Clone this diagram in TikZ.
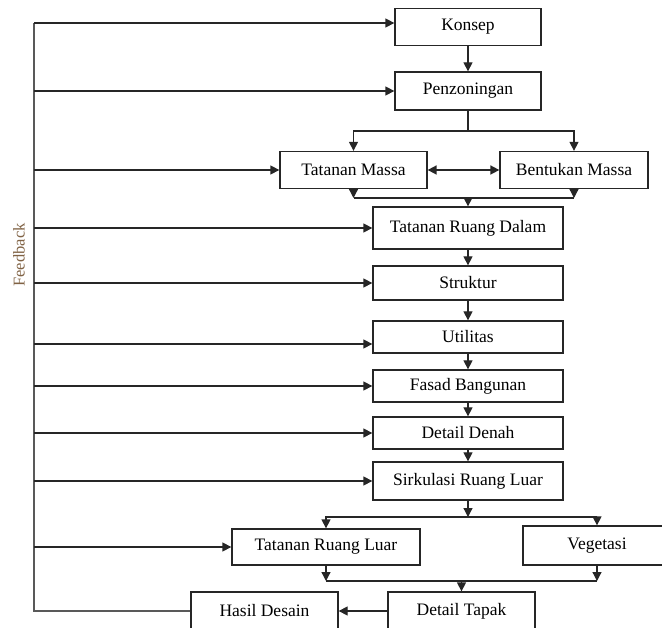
\documentclass[tikz,border=0pt]{standalone}
\usepackage{fontspec}
\setmainfont{Liberation Serif}
\usetikzlibrary{arrows.meta}

\tikzset{
  box/.style={shape=rectangle,draw=black!85,line width=1.3pt,inner sep=0pt,
    font=\fontsize{17.5}{19}\selectfont},
  arr/.style={-{Triangle[length=9pt,width=9pt]},line width=1.3pt,draw=black!85},
  ln/.style={line width=1.3pt,draw=black!85}
}

\begin{document}
\begin{tikzpicture}[x=1pt,y=-1pt]
  \useasboundingbox (0,0) rectangle (662,628);
  \clip (0,0) rectangle (662,628);

  % main column
  \node[box,minimum width=146pt,minimum height=37pt] (konsep) at (468,27) {Konsep};
  \node[box,minimum width=146pt,minimum height=38pt] (penz) at (468,91) {Penzoningan};
  \node[box,minimum width=147pt,minimum height=37pt] (tmassa) at (353.5,170) {Tatanan Massa};
  \node[box,minimum width=148pt,minimum height=37pt] (bmassa) at (574,170) {Bentukan Massa};
  \node[box,minimum width=190pt,minimum height=42pt] (trdalam) at (468,228) {Tatanan Ruang Dalam};
  \node[box,minimum width=190pt,minimum height=34pt] (struktur) at (468,283) {Struktur};
  \node[box,minimum width=190pt,minimum height=32pt] (utilitas) at (468,337) {Utilitas};
  \node[box,minimum width=190pt,minimum height=32pt] (fasad) at (468,386) {Fasad Bangunan};
  \node[box,minimum width=190pt,minimum height=32pt] (denah) at (468,433) {Detail Denah};
  \node[box,minimum width=190pt,minimum height=38pt] (sirk) at (468,481) {Sirkulasi Ruang Luar};
  \node[box,minimum width=188pt,minimum height=36pt] (trluar) at (326,547) {Tatanan Ruang Luar};
  \node[box,minimum width=148pt,minimum height=39pt] (veg) at (597,545.5) {Vegetasi};
  \node[box,minimum width=147pt,minimum height=38pt] (tapak) at (461.5,611) {Detail Tapak};
  \node[box,minimum width=147pt,minimum height=38pt] (hasil) at (264.5,611) {Hasil Desain};

  \node[rotate=90,text=black!45!brown!85,font=\fontsize{16.5}{18}\selectfont] (fblabel) at (19,255) {Feedback};

  \coordinate (split1) at (468,131);
  \coordinate (join1) at (468,198);
  \coordinate (split2) at (468,517);
  \coordinate (join2) at (461.5,581);
  \coordinate (fbline) at (34,0);

  \draw[arr] (konsep) -- (penz);
  \draw[ln] (penz) -- (split1);
  \draw[arr] (split1) -| (tmassa.north);
  \draw[arr] (split1) -| (bmassa.north);
  \draw[{Triangle[length=9pt,width=9pt]}-{Triangle[length=9pt,width=9pt]},line width=1.7pt,draw=black!85] (tmassa) -- (bmassa);
  \draw[arr] (tmassa.south) -- (tmassa.south |- join1);
  \draw[arr] (bmassa.south) -- (bmassa.south |- join1);
  \draw[ln] (tmassa.south |- join1) -- (bmassa.south |- join1);
  \draw[arr] (join1) -- (trdalam);
  \draw[arr] (trdalam) -- (struktur);
  \draw[arr] (struktur) -- (utilitas);
  \draw[arr] (utilitas) -- (fasad);
  \draw[arr] (fasad) -- (denah);
  \draw[arr] (denah) -- (sirk);
  \draw[arr] (sirk) -- (split2);
  \draw[arr] (split2) -| (trluar.north);
  \draw[arr] (split2) -| (veg.north);
  \draw[arr] (trluar.south) -- (trluar.south |- join2);
  \draw[arr] (veg.south) -- (veg.south |- join2);
  \draw[ln] (trluar.south |- join2) -- (veg.south |- join2);
  \draw[arr] (join2) -- (tapak);
  \draw[arr] (tapak) -- (hasil);

  % feedback
  \draw[ln,draw=black!65] (hasil.west) -| ([yshift=4pt]konsep.west -| fbline);
  \draw[arr] ([yshift=4pt]konsep.west -| fbline) -- ([yshift=4pt]konsep.west);
  \draw[arr] (penz.west -| fbline) -- (penz.west);
  \draw[arr] (tmassa.west -| fbline) -- (tmassa.west);
  \draw[arr] (trdalam.west -| fbline) -- (trdalam.west);
  \draw[arr] (struktur.west -| fbline) -- (struktur.west);
  \draw[arr] ([yshift=-7pt]utilitas.west -| fbline) -- ([yshift=-7pt]utilitas.west);
  \draw[arr] (fasad.west -| fbline) -- (fasad.west);
  \draw[arr] (denah.west -| fbline) -- (denah.west);
  \draw[arr] (sirk.west -| fbline) -- (sirk.west);
  \draw[arr] (trluar.west -| fbline) -- (trluar.west);
\end{tikzpicture}
\end{document}
